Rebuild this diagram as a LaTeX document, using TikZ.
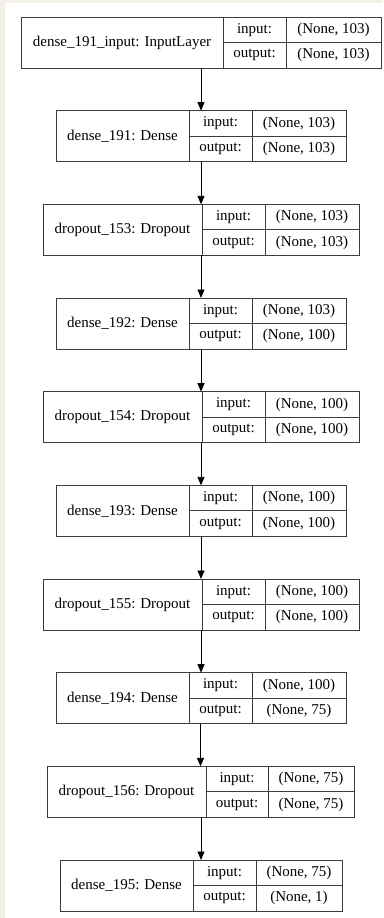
\documentclass[tikz,border=0pt]{standalone}
\usepackage{fontspec}
\setmainfont{Liberation Serif}
\usetikzlibrary{arrows.meta}
\definecolor{pagetint}{HTML}{F4F0E8}
\definecolor{boxline}{HTML}{3C3C3C}

\begin{document}
\begin{tikzpicture}[x=1pt, y=-1pt,
  layer/.style={draw=boxline, line width=0.9pt, minimum height=51pt, inner sep=0pt, outer sep=0pt},
  namecell/.style={anchor=west, minimum height=51pt, inner sep=0pt, outer sep=0pt, font=\fontsize{15}{17}\selectfont},
  cell/.style={draw=boxline, line width=0.9pt, anchor=north west, minimum height=25.5pt, inner sep=0pt, outer sep=0pt, font=\fontsize{15}{17}\selectfont},
  flow/.style={-{Triangle[length=8.5pt,width=7pt]}, line width=0.9pt}]

  % Page
  \fill[pagetint] (0,0) rectangle (383,918);
  \fill[white] (5,3) rectangle (383,918);
  \useasboundingbox (0,0) rectangle (383,918);

  % dense_191_input: InputLayer
  \node[layer, minimum width=360pt] (inlayer) at (201,42.5) {};
  \node[namecell, minimum width=202pt] (inlayer-name) at (inlayer.west) {dense\_191\_input: InputLayer};
  \node[cell, minimum width=63pt] (inlayer-in) at (inlayer-name.north east) {input:};
  \node[cell, minimum width=95pt] (inlayer-inv) at (inlayer-in.north east) {(None, 103)};
  \node[cell, minimum width=63pt] (inlayer-out) at (inlayer-in.south west) {output:};
  \node[cell, minimum width=95pt] (inlayer-outv) at (inlayer-out.north east) {(None, 103)};

  % dense_191: Dense
  \node[layer, minimum width=290pt] (dense191) at (201,136.2) {};
  \node[namecell, minimum width=133pt] (dense191-name) at (dense191.west) {dense\_191: Dense};
  \node[cell, minimum width=63pt] (dense191-in) at (dense191-name.north east) {input:};
  \node[cell, minimum width=94pt] (dense191-inv) at (dense191-in.north east) {(None, 103)};
  \node[cell, minimum width=63pt] (dense191-out) at (dense191-in.south west) {output:};
  \node[cell, minimum width=94pt] (dense191-outv) at (dense191-out.north east) {(None, 103)};

  % dropout_153: Dropout
  \node[layer, minimum width=316pt] (drop153) at (201,229.8) {};
  \node[namecell, minimum width=159pt] (drop153-name) at (drop153.west) {dropout\_153: Dropout};
  \node[cell, minimum width=63pt] (drop153-in) at (drop153-name.north east) {input:};
  \node[cell, minimum width=94pt] (drop153-inv) at (drop153-in.north east) {(None, 103)};
  \node[cell, minimum width=63pt] (drop153-out) at (drop153-in.south west) {output:};
  \node[cell, minimum width=94pt] (drop153-outv) at (drop153-out.north east) {(None, 103)};

  % dense_192: Dense
  \node[layer, minimum width=290pt] (dense192) at (201,323.5) {};
  \node[namecell, minimum width=133pt] (dense192-name) at (dense192.west) {dense\_192: Dense};
  \node[cell, minimum width=63pt] (dense192-in) at (dense192-name.north east) {input:};
  \node[cell, minimum width=94pt] (dense192-inv) at (dense192-in.north east) {(None, 103)};
  \node[cell, minimum width=63pt] (dense192-out) at (dense192-in.south west) {output:};
  \node[cell, minimum width=94pt] (dense192-outv) at (dense192-out.north east) {(None, 100)};

  % dropout_154: Dropout
  \node[layer, minimum width=316pt] (drop154) at (201,417.2) {};
  \node[namecell, minimum width=159pt] (drop154-name) at (drop154.west) {dropout\_154: Dropout};
  \node[cell, minimum width=63pt] (drop154-in) at (drop154-name.north east) {input:};
  \node[cell, minimum width=94pt] (drop154-inv) at (drop154-in.north east) {(None, 100)};
  \node[cell, minimum width=63pt] (drop154-out) at (drop154-in.south west) {output:};
  \node[cell, minimum width=94pt] (drop154-outv) at (drop154-out.north east) {(None, 100)};

  % dense_193: Dense
  \node[layer, minimum width=290pt] (dense193) at (201,510.8) {};
  \node[namecell, minimum width=133pt] (dense193-name) at (dense193.west) {dense\_193: Dense};
  \node[cell, minimum width=63pt] (dense193-in) at (dense193-name.north east) {input:};
  \node[cell, minimum width=94pt] (dense193-inv) at (dense193-in.north east) {(None, 100)};
  \node[cell, minimum width=63pt] (dense193-out) at (dense193-in.south west) {output:};
  \node[cell, minimum width=94pt] (dense193-outv) at (dense193-out.north east) {(None, 100)};

  % dropout_155: Dropout
  \node[layer, minimum width=316pt] (drop155) at (201,604.5) {};
  \node[namecell, minimum width=159pt] (drop155-name) at (drop155.west) {dropout\_155: Dropout};
  \node[cell, minimum width=63pt] (drop155-in) at (drop155-name.north east) {input:};
  \node[cell, minimum width=94pt] (drop155-inv) at (drop155-in.north east) {(None, 100)};
  \node[cell, minimum width=63pt] (drop155-out) at (drop155-in.south west) {output:};
  \node[cell, minimum width=94pt] (drop155-outv) at (drop155-out.north east) {(None, 100)};

  % dense_194: Dense
  \node[layer, minimum width=290pt] (dense194) at (201,698.2) {};
  \node[namecell, minimum width=133pt] (dense194-name) at (dense194.west) {dense\_194: Dense};
  \node[cell, minimum width=63pt] (dense194-in) at (dense194-name.north east) {input:};
  \node[cell, minimum width=94pt] (dense194-inv) at (dense194-in.north east) {(None, 100)};
  \node[cell, minimum width=63pt] (dense194-out) at (dense194-in.south west) {output:};
  \node[cell, minimum width=94pt] (dense194-outv) at (dense194-out.north east) {(None, 75)};

  % dropout_156: Dropout
  \node[layer, minimum width=307pt] (drop156) at (200.5,791.8) {};
  \node[namecell, minimum width=159pt] (drop156-name) at (drop156.west) {dropout\_156: Dropout};
  \node[cell, minimum width=62pt] (drop156-in) at (drop156-name.north east) {input:};
  \node[cell, minimum width=86pt] (drop156-inv) at (drop156-in.north east) {(None, 75)};
  \node[cell, minimum width=62pt] (drop156-out) at (drop156-in.south west) {output:};
  \node[cell, minimum width=86pt] (drop156-outv) at (drop156-out.north east) {(None, 75)};

  % dense_195: Dense
  \node[layer, minimum width=282pt] (dense195) at (201,885.5) {};
  \node[namecell, minimum width=133pt] (dense195-name) at (dense195.west) {dense\_195: Dense};
  \node[cell, minimum width=63pt] (dense195-in) at (dense195-name.north east) {input:};
  \node[cell, minimum width=86pt] (dense195-inv) at (dense195-in.north east) {(None, 75)};
  \node[cell, minimum width=63pt] (dense195-out) at (dense195-in.south west) {output:};
  \node[cell, minimum width=86pt] (dense195-outv) at (dense195-out.north east) {(None, 1)};

  % Arrows
  \draw[flow] (inlayer) -- (dense191);
  \draw[flow] (dense191) -- (drop153);
  \draw[flow] (drop153) -- (dense192);
  \draw[flow] (dense192) -- (drop154);
  \draw[flow] (drop154) -- (dense193);
  \draw[flow] (dense193) -- (drop155);
  \draw[flow] (drop155) -- (dense194);
  \draw[flow] (dense194.south -| drop156) -- (drop156);
  \draw[flow] (drop156.south -| dense195) -- (dense195);

\end{tikzpicture}
\end{document}
